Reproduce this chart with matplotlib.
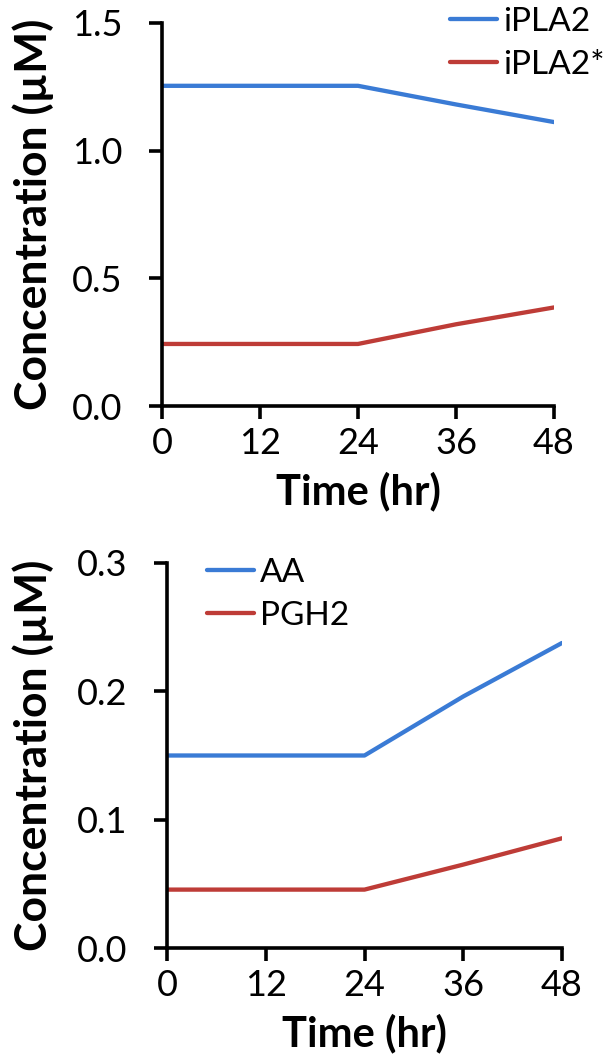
import matplotlib
matplotlib.use("Agg")
import matplotlib.pyplot as plt

plt.rcParams['font.family'] = ['Lato', 'DejaVu Sans']

# Time points (hr)
time = [0, 24, 36, 48]
x_ticks = [0, 12, 24, 36, 48]

# Upper panel: iPLA2 species (µM)
ipla2 = [1.254, 1.254, 1.181, 1.112]
ipla2_act = [0.243, 0.243, 0.320, 0.386]
top_yticks = [0.0, 0.5, 1.0, 1.5]

# Lower panel: AA and PGH2 (µM)
aa = [0.150, 0.150, 0.196, 0.2377]
pgh2 = [0.0455, 0.0455, 0.065, 0.0855]
bot_yticks = [0.0, 0.1, 0.2, 0.3]

BLUE = '#3A7BD5'
RED = '#BE3C37'

W, H = 605, 1062
fig = plt.figure(figsize=(W / 100, H / 100), dpi=100)

def frac(left, top, right, bottom):
    return [left / W, 1 - bottom / H, (right - left) / W, (bottom - top) / H]

ax1 = fig.add_axes(frac(162, 23, 554, 406))
ax2 = fig.add_axes(frac(167, 563, 562, 948))

def style(ax, yticks, fmt, left_px, right_px):
    ax.set_xlim(0, 48)
    ax.set_xticks(x_ticks)
    ax.set_ylim(yticks[0], yticks[-1])
    ax.set_yticks(yticks)
    ax.set_yticklabels([fmt.format(v) for v in yticks])
    for s in ('top', 'right'):
        ax.spines[s].set_visible(False)
    for s in ('left', 'bottom'):
        ax.spines[s].set_linewidth(2.6)
        ax.spines[s].set_capstyle('projecting')
    ax.tick_params(direction='out', length=9.4, width=2.6, labelsize=26)
    ax.tick_params(axis='y', pad=19)
    ax.tick_params(axis='x', pad=6)
    ax.set_xlabel('Time (hr)', fontsize=30, fontweight='bold', labelpad=8)
    ax.set_ylabel('Concentration (µM)', fontsize=32, fontweight='bold')
    # baseline side of the rotated y label sits about 54 px from the figure edge
    ax.yaxis.set_label_coords((54 - left_px) / (right_px - left_px), 0.5)

legend_kw = dict(frameon=False, fontsize=24, handlelength=1.4, handletextpad=0.2,
                 borderpad=0, borderaxespad=0, labelspacing=0.38)

for line_y, lab, col in ((ipla2, 'iPLA2', BLUE), (ipla2_act, 'iPLA2*', RED)):
    ax1.plot(time, line_y, color=col, lw=3.1, label=lab, solid_capstyle='round')
style(ax1, top_yticks, '{:.1f}', 162, 554)
ax1.legend(loc='upper left', bbox_to_anchor=(450 / W, 1 - 7 / H),
           bbox_transform=fig.transFigure, **legend_kw)

for line_y, lab, col in ((aa, 'AA', BLUE), (pgh2, 'PGH2', RED)):
    ax2.plot(time, line_y, color=col, lw=3.1, label=lab, solid_capstyle='round')
style(ax2, bot_yticks, '{:.1f}', 167, 562)
ax2.legend(loc='upper left', bbox_to_anchor=(207 / W, 1 - 558 / H),
           bbox_transform=fig.transFigure, **legend_kw)

fig.savefig('out.png', dpi=100)
